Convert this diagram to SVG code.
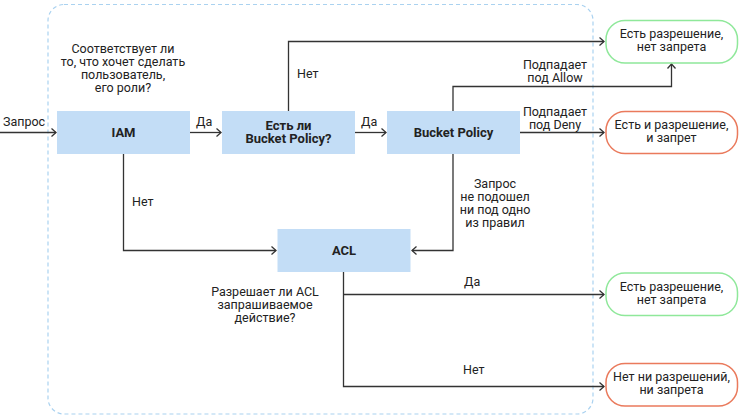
<svg xmlns="http://www.w3.org/2000/svg" width="740" height="418" viewBox="0 0 740 418">
<defs>
<marker id="ah" markerWidth="8" markerHeight="10" refX="6" refY="5" orient="auto" markerUnits="userSpaceOnUse">
<path d="M1.5,1 L6,5 L1.5,9" fill="none" stroke="#333" stroke-width="1.3"/>
</marker>
<style>
text{font-family:Roboto,"Liberation Sans",sans-serif;font-size:12.5px;fill:#222}
.c{text-anchor:middle}
.b{font-weight:bold;font-size:13px}
.box{fill:#c3ddf6}
.ok{fill:#fff;stroke:#8fe89a;stroke-width:1.5}
.no{fill:#fff;stroke:#ea7a5c;stroke-width:1.5}
.ln{fill:none;stroke:#333;stroke-width:1.3}
</style>
</defs>
<rect x="48" y="4.5" width="545" height="409.5" rx="16" fill="none" stroke="#aad2f0" stroke-width="1.2" stroke-dasharray="4 3"/>
<g id="connectors">
<path class="ln" d="M0,132.5 H56" marker-end="url(#ah)"/>
<path class="ln" d="M190,132.5 H221" marker-end="url(#ah)"/>
<path class="ln" d="M355,132.5 H386" marker-end="url(#ah)"/>
<path class="ln" d="M288.5,111 V41.5 H604" marker-end="url(#ah)"/>
<path class="ln" d="M453,111 V86.5 H671.5 V64" marker-end="url(#ah)"/>
<path class="ln" d="M520,132.5 H604" marker-end="url(#ah)"/>
<path class="ln" d="M453,154 V250.5 H412" marker-end="url(#ah)"/>
<path class="ln" d="M123.5,154 V250.5 H276" marker-end="url(#ah)"/>
<path class="ln" d="M343.5,272 V386.5 H604" marker-end="url(#ah)"/>
<path class="ln" d="M343.5,294.5 H604" marker-end="url(#ah)"/>
<text x="3" y="126">Запрос</text>
<text x="196" y="126">Да</text>
<text x="361" y="126">Да</text>
<text x="297" y="78">Нет</text>
<text x="132" y="206">Нет</text>
<text class="c" x="555" y="69">Подпадает</text>
<text class="c" x="555" y="82">под Allow</text>
<text class="c" x="555" y="116">Подпадает</text>
<text class="c" x="555" y="129">под Deny</text>
<text class="c" x="495" y="188">Запрос</text>
<text class="c" x="495" y="201">не подошел</text>
<text class="c" x="495" y="214">ни под одно</text>
<text class="c" x="495" y="227">из правил</text>
<text x="464" y="286">Да</text>
<text x="463" y="374">Нет</text>
<text class="c" x="123" y="53">Соответствует ли</text>
<text class="c" x="123" y="66">то, что хочет сделать</text>
<text class="c" x="123" y="79">пользователь,</text>
<text class="c" x="123" y="92">его роли?</text>
<text class="c" x="265" y="296">Разрешает ли ACL</text>
<text class="c" x="265" y="309">запрашиваемое</text>
<text class="c" x="265" y="322">действие?</text>
</g>
<g id="iam"><rect class="box" x="57" y="111" width="133" height="43"/><text class="c b" x="123.5" y="137">IAM</text></g>
<g id="has-bucket-policy"><rect class="box" x="222" y="111" width="133" height="43"/><text class="c b" x="288.5" y="130">Есть ли</text><text class="c b" x="288.5" y="143">Bucket Policy?</text></g>
<g id="bucket-policy"><rect class="box" x="387" y="111" width="133" height="43"/><text class="c b" x="453.5" y="137">Bucket Policy</text></g>
<g id="acl"><rect class="box" x="277.5" y="229" width="133" height="43"/><text class="c b" x="344" y="255">ACL</text></g>
<g id="out1"><rect class="ok" x="606" y="20.5" width="131.5" height="42.5" rx="19"/><text class="c" x="671.5" y="38">Есть разрешение,</text><text class="c" x="671.5" y="51">нет запрета</text></g>
<g id="out2"><rect class="no" x="606" y="111.5" width="131.5" height="42" rx="19"/><text class="c" x="671.5" y="129">Есть и разрешение,</text><text class="c" x="671.5" y="142">и запрет</text></g>
<g id="out3"><rect class="ok" x="606" y="273" width="131.5" height="42.5" rx="19"/><text class="c" x="671.5" y="291">Есть разрешение,</text><text class="c" x="671.5" y="304">нет запрета</text></g>
<g id="out4"><rect class="no" x="606" y="363.5" width="131.5" height="42.5" rx="19"/><text class="c" x="671.5" y="381">Нет ни разрешений,</text><text class="c" x="671.5" y="394">ни запрета</text></g>
</svg>
